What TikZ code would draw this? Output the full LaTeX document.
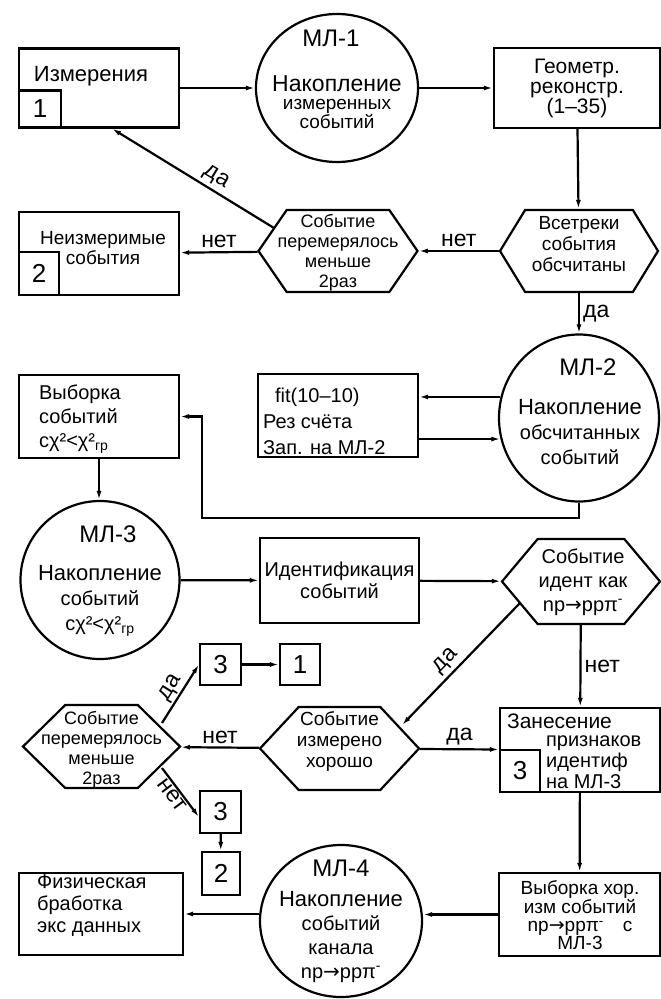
\documentclass[tikz,border=0pt]{standalone}
\usepackage{fontspec}
\setmainfont{Liberation Sans}
\newfontfamily\symfont{DejaVu Sans}
\usetikzlibrary{arrows.meta,shapes.geometric,shapes.symbols}

\newcommand{\reac}{np{\symfont →}ppπ\textsuperscript{-}}
\newcommand{\chigr}{сχ²<χ²\textsubscript{гр}}

\tikzset{
  box/.style={draw, rectangle, inner sep=0pt},
  numbox/.style={draw, rectangle, inner sep=0pt, font=\fontsize{26}{26}\selectfont},
  store/.style={draw, ellipse, inner sep=0pt},
  test/.style={draw, signal, signal to=east and west, inner sep=0pt},
  txt/.style={inner sep=0pt, font=\fontsize{20}{21}\selectfont},
  ttl/.style={inner sep=0pt, font=\fontsize{24}{24}\selectfont},
  lbl/.style={inner sep=3pt, font=\fontsize{23}{23}\selectfont}
}

\begin{document}
\begin{tikzpicture}[x=1pt, y=-1pt, line width=2.2pt, >={Latex[length=9pt,width=5pt]}]
  \fill[white] (0,0) rectangle (661,999);
  \useasboundingbox (0,0) rectangle (661,999);

  % row 1
  \node[box, minimum width=160pt, minimum height=79pt] (meas) at (99,88) {};
  \node[numbox, minimum width=42pt, minimum height=37pt, anchor=south west] (meas no) at (meas.south west) {1};
  \node[txt, font=\fontsize{22}{22}\selectfont] (meas txt) at (91,76) {Измерения};

  \node[store, minimum width=162pt, minimum height=148pt] (ml1) at (337,88) {};
  \node[ttl] (ml1 ttl) at (331,38) {МЛ-1};
  \node[txt, align=center, font=\fontsize{19}{18}\selectfont] (ml1 txt) at (337,102)
    {{\fontsize{23}{23}\selectfont Накопление}\\измеренных\\событий};

  \node[box, minimum width=166pt, minimum height=80pt, align=center,
        font=\fontsize{21}{20}\selectfont] (geom) at (577,88) {Геометр.\\реконстр.\\(1–35)};

  % row 2
  \node[test, minimum width=158pt, minimum height=82pt, signal pointer angle=117] (trk) at (579,251) {};
  \node[txt, align=center, font=\fontsize{19}{21}\selectfont] (trk txt) at (579,244) {Всетреки\\события\\обсчитаны};

  \node[test, minimum width=159pt, minimum height=82pt, signal pointer angle=111] (rep) at (338,251) {};
  \node[txt, align=center, font=\fontsize{18}{20}\selectfont] (rep txt) at (338,253) {Событие\\перемерялось\\меньше\\2раз};

  \node[box, minimum width=160pt, minimum height=83pt] (unmeas) at (99,253.5) {};
  \node[numbox, minimum width=40pt, minimum height=43pt, anchor=south west] (unmeas no) at (unmeas.south west) {2};
  \node[txt, align=center, font=\fontsize{19}{20}\selectfont] (unmeas txt) at (103,248) {Неизмеримые\\события};

  % row 3
  \node[store, minimum width=160pt, minimum height=167pt] (ml2) at (579,418) {};
  \node[ttl] (ml2 ttl) at (588,367) {МЛ-2};
  \node[txt, align=center, font=\fontsize{20}{25}\selectfont] (ml2 txt) at (580,432)
    {{\fontsize{22}{22}\selectfont Накопление}\\обсчитанных\\событий};

  \node[box, minimum width=160pt, minimum height=83pt] (fit) at (338,415.5) {};
  \node[txt, align=left, anchor=west, font=\fontsize{20}{26}\selectfont] (fit txt) at (262,421)
    {\hspace*{12pt}fit(10–10)\\Рез счёта\\Зап. на МЛ-2};

  \node[box, minimum width=160pt, minimum height=83pt] (sel) at (99,416.5) {};
  \node[txt, align=left, anchor=west, font=\fontsize{20}{24}\selectfont] (sel txt) at (38,419)
    {Выборка\\событий\\\chigr};

  % row 4
  \node[store, minimum width=159pt, minimum height=158pt] (ml3) at (100,580) {};
  \node[ttl] (ml3 ttl) at (108,534) {МЛ-3};
  \node[txt, align=center, font=\fontsize{20}{25}\selectfont] (ml3 txt) at (100,601)
    {{\fontsize{22}{22}\selectfont Накопление}\\событий\\\chigr};

  \node[box, minimum width=159pt, minimum height=85pt, align=center,
        font=\fontsize{20}{22}\selectfont] (ident) at (339.5,580.5) {Идентификация\\событий};

  \node[test, minimum width=158pt, minimum height=85pt, signal pointer angle=100] (idt) at (581,581.5) {};
  \node[txt, align=center, font=\fontsize{20}{24}\selectfont] (idt txt) at (583,582) {Событие\\идент как\\\reac};

  % row 5
  \node[numbox, minimum width=41pt, minimum height=41pt] (refA3) at (220.5,664.5) {3};
  \node[numbox, minimum width=40pt, minimum height=41pt] (refA1) at (300,664.5) {1};

  \node[test, minimum width=157pt, minimum height=83pt, signal pointer angle=89] (rep2) at (101.5,746.5) {};
  \node[txt, align=center, font=\fontsize{18}{20}\selectfont] (rep2 txt) at (101.5,750) {Событие\\перемерялось\\меньше\\2раз};

  \node[test, minimum width=159pt, minimum height=83pt, signal pointer angle=94] (good) at (339.5,748.5) {};
  \node[txt, align=center, font=\fontsize{19}{21}\selectfont] (good txt) at (339.5,741) {Событие\\измерено\\хорошо};

  \node[box, minimum width=160pt, minimum height=84pt] (mark) at (580,750) {};
  \node[numbox, minimum width=40pt, minimum height=42pt, anchor=south west] (mark no) at (mark.south west) {3};
  \node[txt, anchor=west, font=\fontsize{21}{21}\selectfont] (mark txt1) at (506,721) {Занесение};
  \node[txt, align=left, anchor=west, font=\fontsize{20}{21}\selectfont] (mark txt2) at (545,762) {признаков\\идентиф\\на МЛ-3};

  \node[numbox, minimum width=41pt, minimum height=42pt] (refB3) at (220.5,812) {3};
  \node[numbox, minimum width=38pt, minimum height=43pt] (refB2) at (221,873.5) {2};

  % row 6
  \node[box, minimum width=164pt, minimum height=82pt] (phys) at (101,914) {};
  \node[txt, align=left, anchor=west, font=\fontsize{20}{22}\selectfont] (phys txt) at (36,906) {Физическая\\бработка\\экс данных};

  \node[store, minimum width=162pt, minimum height=152pt] (ml4) at (341,921) {};
  \node[ttl] (ml4 ttl) at (341,868) {МЛ-4};
  \node[txt, align=center, font=\fontsize{20}{24}\selectfont] (ml4 txt) at (341,937)
    {{\fontsize{22}{22}\selectfont Накопление}\\событий\\канала\\\reac};

  \node[box, minimum width=161pt, minimum height=83pt] (selg) at (579.5,914.5) {};
  \node[txt, align=center, font=\fontsize{19}{18}\selectfont] (selg txt) at (580,915)
    {Выборка хор.\\изм событий\\\reac\quad с\\МЛ-3};

  % connectors
  \coordinate (rep ul) at (274,228);
  \coordinate (fb) at (202,518);
  \coordinate (idt ll) at (520,603);
  \coordinate (good ur) at (402,725);
  \coordinate (rep2 ur) at (162,723);
  \coordinate (rep2 lr) at (162,768);

  \draw[->] (meas) -- (ml1);
  \draw[->] (ml1) -- (geom);
  \draw[->] (geom) -- (trk);
  \draw[->] (trk) -- node[lbl, above]{нет} (rep);
  \draw[->] (rep) -- node[lbl, above]{нет} (unmeas);
  \draw[->] (rep ul) -- node[lbl, above, sloped, pos=0.4]{да} (meas.south -| 112,0);
  \draw[->] (trk) -- node[lbl, right]{да} (ml2);

  \draw[->] (ml2.165) -- (ml2.165 -| fit.east);
  \draw[->] (fit.east |- ml2.195) -- (ml2.195);
  \draw[->] (ml2) |- (fb) |- (sel);
  \draw[->] (sel.south) -- (sel.south |- ml3.north);

  \draw[->] (ml3) -- (ident);
  \draw[->] (ident) -- (idt);
  \draw[->] (idt) -- node[lbl, right]{нет} (mark);
  \draw[->] (idt ll) -- node[lbl, above, sloped, pos=0.55]{да} (good ur);
  \draw[->] (good) -- node[lbl, above]{да} (mark);
  \draw[->] (good) -- node[lbl, above]{нет} (rep2);
  \draw[->] (rep2 ur) -- node[lbl, above, sloped, inner sep=1pt]{да} (refA3.west);
  \draw[->] (rep2 lr) -- node[lbl, below, sloped, inner sep=1pt, pos=0.45]{нет} ([yshift=-5pt]refB3.west);
  \draw[->] (refA3) -- (refA1);
  \draw[->] (refB3) -- (refB2);

  \draw[->] (mark) -- (selg);
  \draw[->] (selg) -- (selg -| ml4.east);
  \draw[->] (phys -| ml4.west) -- (phys);
\end{tikzpicture}
\end{document}
